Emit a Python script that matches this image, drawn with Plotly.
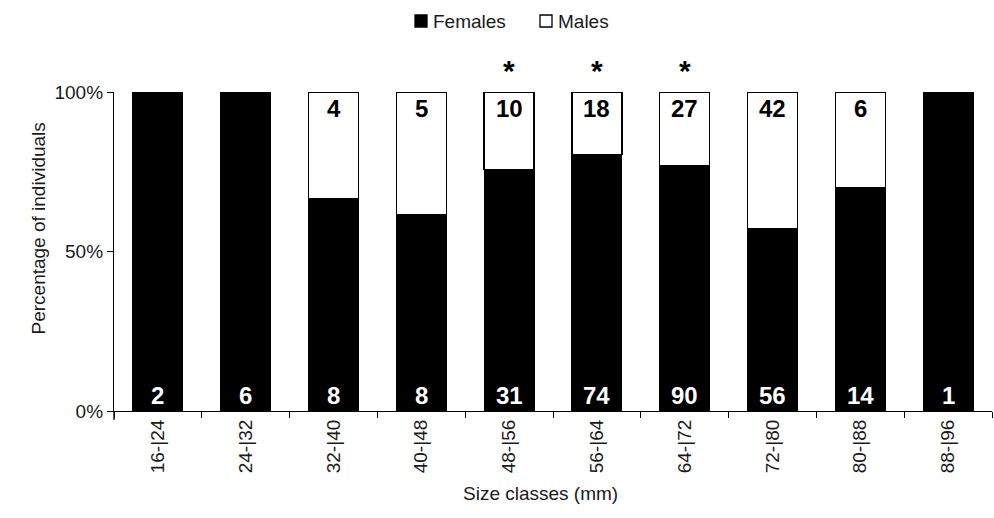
import plotly.graph_objects as go

# Size classes (mm) and number of individuals per sex
size_classes = ["16-|24", "24-|32", "32-|40", "40-|48", "48-|56",
                "56-|64", "64-|72", "72-|80", "80-|88", "88-|96"]
females = [2, 6, 8, 8, 31, 74, 90, 56, 14, 1]
males = [0, 0, 4, 5, 10, 18, 27, 42, 6, 0]
significant = ["48-|56", "56-|64", "64-|72"]

totals = [f + m for f, m in zip(females, males)]
pct_females = [100.0 * f / t for f, t in zip(females, totals)]
pct_males = [100.0 * m / t for m, t in zip(males, totals)]

FONT = "Liberation Sans, Arial, sans-serif"
TXT = "#1a1a1a"

W, H = 994, 518
ML, MR, MT, MB = 114, 2, 92, 107
plot_w = W - ML - MR
plot_h = H - MT - MB


def px_x(px):
    """pixel column -> paper x"""
    return (px - ML) / plot_w


def px_y(py):
    """pixel row -> paper y"""
    return (H - MB - py) / plot_h


fig = go.Figure()
fig.add_trace(go.Bar(
    name="Females", x=size_classes, y=pct_females,
    marker=dict(color="black", line=dict(color="black", width=1)),
    width=0.57, hoverinfo="skip", showlegend=False,
))
fig.add_trace(go.Bar(
    name="Males", x=size_classes, y=pct_males,
    marker=dict(color="white", line=dict(color="black", width=1.3)),
    width=0.57, hoverinfo="skip", showlegend=False,
))

annotations = []
# female counts at the base of each bar
for c, f in zip(size_classes, females):
    annotations.append(dict(
        x=c, y=0, xref="x", yref="y", text=f"<b>{f}</b>", showarrow=False,
        yanchor="bottom", yshift=0,
        font=dict(family=FONT, size=24, color="white"),
    ))
# male counts at the top of each bar
for c, m in zip(size_classes, males):
    if m > 0:
        annotations.append(dict(
            x=c, y=100, xref="x", yref="y", text=f"<b>{m}</b>", showarrow=False,
            yanchor="top", yshift=-1,
            font=dict(family=FONT, size=24, color="black"),
        ))
# significance markers
for c in significant:
    annotations.append(dict(
        x=c, y=100, xref="x", yref="y", text="<b>*</b>", showarrow=False,
        yanchor="bottom", yshift=3,
        font=dict(family=FONT, size=30, color="black"),
    ))
# axis titles
annotations.append(dict(
    x=px_x(540), y=px_y(506), xref="paper", yref="paper",
    text="Size classes (mm)", showarrow=False,
    font=dict(family=FONT, size=19, color=TXT),
))
annotations.append(dict(
    x=px_x(25), y=px_y(229), xref="paper", yref="paper",
    text="Percentage of individuals", showarrow=False, textangle=-90,
    font=dict(family=FONT, size=19, color=TXT),
))

# legend: filled square for females, open square for males
shapes = []
legend_items = [("Females", "black", 415), ("Males", "white", 540)]
for label, fill, x0 in legend_items:
    shapes.append(dict(
        type="rect", xref="paper", yref="paper",
        x0=px_x(x0), x1=px_x(x0 + 12), y0=px_y(27), y1=px_y(15),
        fillcolor=fill, line=dict(color="black", width=1.3),
    ))
    annotations.append(dict(
        x=px_x(x0 + 16), y=px_y(21), xref="paper", yref="paper",
        text=label, showarrow=False, xanchor="left", yanchor="middle",
        font=dict(family=FONT, size=19, color=TXT),
    ))

# y axis line continues slightly below the x axis
shapes.append(dict(type="line", xref="paper", yref="paper",
                   x0=0, x1=0, y0=0, y1=px_y(420),
                   line=dict(color="black", width=1.3)))

fig.update_layout(
    width=W, height=H,
    margin=dict(l=ML, r=MR, t=MT, b=MB),
    paper_bgcolor="white", plot_bgcolor="white",
    barmode="stack",
    font=dict(family=FONT, size=19, color=TXT),
    showlegend=False,
    xaxis=dict(
        type="category", tickson="boundaries", ticks="outside", ticklen=6,
        tickcolor="black", tickwidth=1.3, tickangle=-90,
        showline=True, linecolor="black", linewidth=1.3,
        showgrid=False, zeroline=False,
        tickfont=dict(family=FONT, size=19, color=TXT),
        range=[-0.5, 9.5],
    ),
    yaxis=dict(
        range=[0, 100], tickvals=[0, 50, 100], ticktext=["0%", "50%", "100%"],
        ticks="outside", ticklen=6, tickcolor="black", tickwidth=1.3,
        showline=True, linecolor="black", linewidth=1.3,
        showgrid=False, zeroline=False,
        tickfont=dict(family=FONT, size=19, color=TXT),
    ),
    annotations=annotations,
    shapes=shapes,
)

fig.write_html("out.html")
